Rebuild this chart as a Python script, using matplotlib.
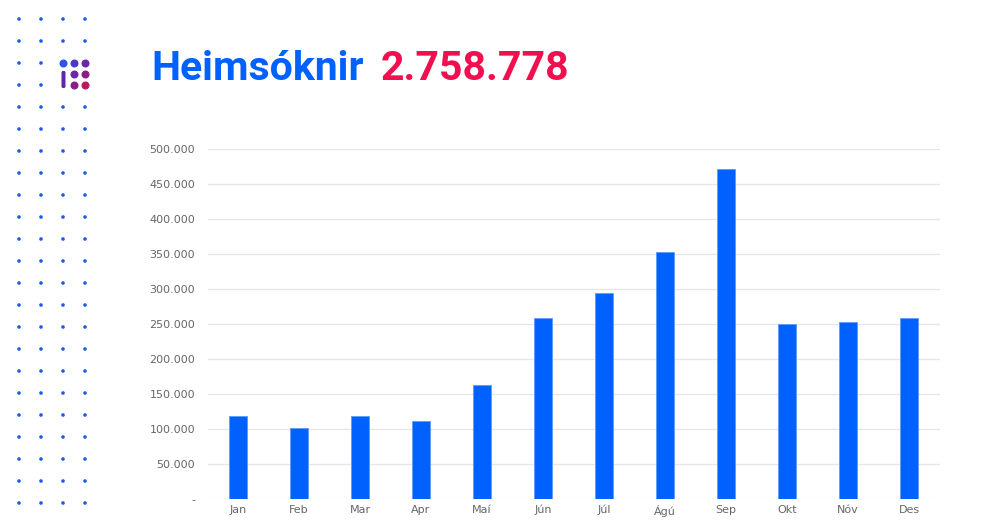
import matplotlib.pyplot as plt
from matplotlib.ticker import FuncFormatter
from matplotlib.patches import Circle, FancyBboxPatch

months = ['Jan', 'Feb', 'Mar', 'Apr', 'Maí', 'Jún', 'Júl', 'Ágú', 'Sep', 'Okt', 'Nóv', 'Des']
visits = [118000, 102000, 118000, 112000, 163000, 259000, 295000, 353000, 471000, 250000, 253000, 258000]
yticks = [0, 50000, 100000, 150000, 200000, 250000, 300000, 350000, 400000, 450000, 500000]
title = 'Heimsóknir'
total = '2.758.778'

blue = '#0061ff'
red = '#f0104f'

fig = plt.figure(figsize=(10, 5.2), dpi=100)

# dotted column on the left, in pixel coordinates
deco = fig.add_axes([0, 0, 1, 1])
deco.set_xlim(0, 1000)
deco.set_ylim(520, 0)
deco.axis('off')
for row in range(23):
    for col in range(4):
        x = 19 + 22 * col
        y = 19 + 22 * row
        if col >= 2 and row in (2, 3):
            continue
        deco.add_patch(Circle((x, y), 1.8, color='#1d5be6', lw=0))

# logo
logo_x = [63.5, 74.5, 85.5]
logo_y = [63.5, 74.5, 85.5]
dot_cols = [['#2d55e8', '#4a3bc4', '#6a2aa8'],
            [None, '#6a2aa8', '#8a1f88'],
            [None, '#8a1f88', '#c0155f']]
for i, y in enumerate(logo_y):
    for j, x in enumerate(logo_x):
        c = dot_cols[i][j]
        if c:
            deco.add_patch(Circle((x, y), 4.0, color=c, lw=0))
deco.add_patch(FancyBboxPatch((61.5, 71), 4, 17, boxstyle='round,pad=0,rounding_size=1.5',
                              color='#5a2aa8', lw=0))

fig.text(0.151, 0.847, title, color=blue, fontsize=29.5, fontweight='bold',
         family='Roboto', va='baseline')
fig.text(0.381, 0.847, total, color=red, fontsize=29.5, fontweight='bold',
         family='Roboto', va='baseline')

ax = fig.add_axes([0.2075, 1 - 499 / 520, 0.732, 350 / 520])
x = range(len(months))
ax.bar(x, visits, width=0.31, color=blue, edgecolor='#5a9bff', linewidth=0.6, zorder=3)
ax.set_xlim(-0.5, len(months) - 0.5)
ax.set_ylim(0, 500000)
ax.set_yticks(yticks)
ax.yaxis.set_major_formatter(FuncFormatter(
    lambda v, p: '-' if v == 0 else f'{int(v):,}'.replace(',', '.')))
ax.set_xticks(list(x))
ax.set_xticklabels(months)
ax.grid(axis='y', color='#e6e6e6', linewidth=0.9, zorder=0)
for s in ax.spines.values():
    s.set_visible(False)
ax.tick_params(length=0, labelsize=8, colors='#666666')
ax.tick_params(axis='y', pad=9)
ax.tick_params(axis='x', pad=4)
for lbl in ax.get_xticklabels() + ax.get_yticklabels():
    lbl.set_family('DejaVu Sans')

fig.savefig('out.png', dpi=100)
